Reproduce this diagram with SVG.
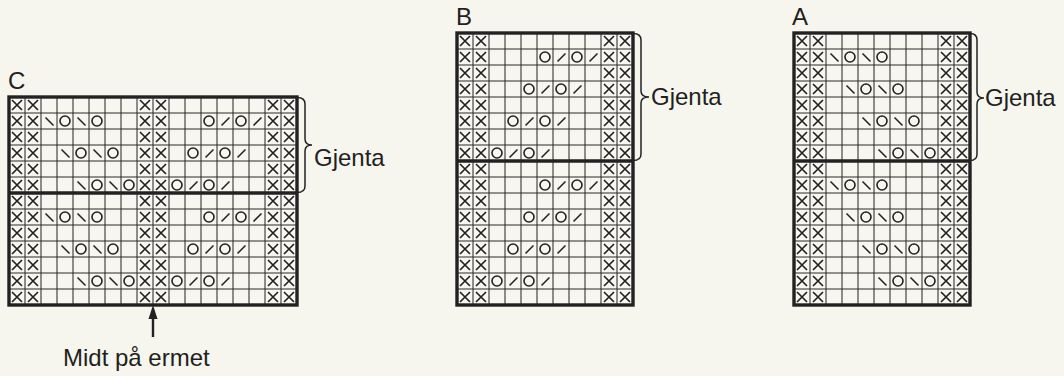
<svg xmlns="http://www.w3.org/2000/svg" xmlns:xlink="http://www.w3.org/1999/xlink" width="1064" height="376" viewBox="0 0 1064 376">
<style>
.bg{fill:#f6f5ee}
.cell{fill:#f7f6f0}
.vg{stroke:#8c8c8c;stroke-width:2;fill:none}
.hg{stroke:#2a2a2a;stroke-width:1.2;fill:none}
.sym{fill:none;stroke:#222;stroke-width:1.6}
.frame{fill:none;stroke:#222;stroke-width:3.4}
.div{stroke:#222;stroke-width:3.4}
.brace{fill:none;stroke:#222;stroke-width:1.5}
.lbl{font-family:"Liberation Sans",Arial,Helvetica,sans-serif;font-size:24px;fill:#231f20}
</style>
<defs>
<pattern id="px" width="16" height="16" patternUnits="userSpaceOnUse"><path d="M3,3L13,13M13,3L3,13" stroke="#222" stroke-width="1.7" fill="none"/></pattern>
<circle id="o" cx="8" cy="8" r="5" class="sym"/>
<path id="bs" d="M4.5,4.5L12.5,12.5" class="sym"/>
<path id="fs" d="M4.5,12.5L12.5,4.5" class="sym"/>
<g id="aR2"><use href="#bs" x="32"/><use href="#o" x="48"/><use href="#bs" x="64"/><use href="#o" x="80"/></g>
<g id="aR4"><use href="#bs" x="48"/><use href="#o" x="64"/><use href="#bs" x="80"/><use href="#o" x="96"/></g>
<g id="aR6"><use href="#bs" x="64"/><use href="#o" x="80"/><use href="#bs" x="96"/><use href="#o" x="112"/></g>
<g id="aR8"><use href="#bs" x="80"/><use href="#o" x="96"/><use href="#bs" x="112"/><use href="#o" x="128"/></g>
<g id="bR2"><use href="#o" x="80"/><use href="#fs" x="96"/><use href="#o" x="112"/><use href="#fs" x="128"/></g>
<g id="bR4"><use href="#o" x="64"/><use href="#fs" x="80"/><use href="#o" x="96"/><use href="#fs" x="112"/></g>
<g id="bR6"><use href="#o" x="48"/><use href="#fs" x="64"/><use href="#o" x="80"/><use href="#fs" x="96"/></g>
<g id="bR8"><use href="#o" x="32"/><use href="#fs" x="48"/><use href="#o" x="64"/><use href="#fs" x="80"/></g>
<path id="vg11" class="vg" d="M16,0V272M32,0V272M48,0V272M64,0V272M80,0V272M96,0V272M112,0V272M128,0V272M144,0V272M160,0V272"/>
<path id="hg17" class="hg" d="M0,16H176M0,32H176M0,48H176M0,64H176M0,80H176M0,96H176M0,112H176M0,144H176M0,160H176M0,176H176M0,192H176M0,208H176M0,224H176M0,240H176M0,256H176"/>
</defs>
<rect class="bg" x="0" y="0" width="1064" height="376"/>

<g id="chart-C" transform="translate(9,97)">
<rect class="cell" x="0" y="0" width="288" height="208"/>
<rect x="0" y="0" width="32" height="208" fill="url(#px)"/>
<rect x="128" y="0" width="32" height="208" fill="url(#px)"/>
<rect x="256" y="0" width="32" height="208" fill="url(#px)"/>
<path class="vg" d="M16,0V208M32,0V208M48,0V208M64,0V208M80,0V208M96,0V208M112,0V208M128,0V208M144,0V208M160,0V208M176,0V208M192,0V208M208,0V208M224,0V208M240,0V208M256,0V208M272,0V208"/>
<path class="hg" d="M0,16H288M0,32H288M0,48H288M0,64H288M0,80H288M0,112H288M0,128H288M0,144H288M0,160H288M0,176H288M0,192H288"/>
<use href="#aR2" y="16"/><use href="#bR2" x="112" y="16"/>
<use href="#aR4" y="48"/><use href="#bR4" x="112" y="48"/>
<use href="#aR6" y="80"/><use href="#bR6" x="112" y="80"/>
<use href="#aR2" y="112"/><use href="#bR2" x="112" y="112"/>
<use href="#aR4" y="144"/><use href="#bR4" x="112" y="144"/>
<use href="#aR6" y="176"/><use href="#bR6" x="112" y="176"/>
<line class="div" x1="0" y1="96" x2="288" y2="96"/>
<rect class="frame" x="0" y="0" width="288" height="208"/>
</g>

<g id="chart-B" transform="translate(457,33)">
<rect class="cell" x="0" y="0" width="176" height="272"/>
<rect x="0" y="0" width="32" height="272" fill="url(#px)"/>
<rect x="144" y="0" width="32" height="272" fill="url(#px)"/>
<use href="#vg11"/><use href="#hg17"/>
<use href="#bR2" y="16"/><use href="#bR4" y="48"/><use href="#bR6" y="80"/><use href="#bR8" y="112"/>
<use href="#bR2" y="144"/><use href="#bR4" y="176"/><use href="#bR6" y="208"/><use href="#bR8" y="240"/>
<line class="div" x1="0" y1="128" x2="176" y2="128"/>
<rect class="frame" x="0" y="0" width="176" height="272"/>
</g>

<g id="chart-A" transform="translate(794,33)">
<rect class="cell" x="0" y="0" width="176" height="272"/>
<rect x="0" y="0" width="32" height="272" fill="url(#px)"/>
<rect x="144" y="0" width="32" height="272" fill="url(#px)"/>
<use href="#vg11"/><use href="#hg17"/>
<use href="#aR2" y="16"/><use href="#aR4" y="48"/><use href="#aR6" y="80"/><use href="#aR8" y="112"/>
<use href="#aR2" y="144"/><use href="#aR4" y="176"/><use href="#aR6" y="208"/><use href="#aR8" y="240"/>
<line class="div" x1="0" y1="128" x2="176" y2="128"/>
<rect class="frame" x="0" y="0" width="176" height="272"/>
</g>

<g id="connectors">
<path class="brace" d="M297,97.5Q305,97.5 305,104V139Q305,145 312,145Q305,145 305,151V186Q305,192.5 297,192.5"/>
<path class="brace" d="M633,33.5Q641,33.5 641,40V91Q641,97 649,97Q641,97 641,103V154Q641,160.5 633,160.5"/>
<path class="brace" d="M970,33.5Q977,33.5 977,40V92Q977,98 984,98Q977,98 977,104V154Q977,160.5 970,160.5"/>
<line x1="153" y1="337" x2="153" y2="316" stroke="#222" stroke-width="2.4"/>
<polygon points="153,305 148.5,319 157.5,319" fill="#222"/>
</g>

<g id="labels">
<text class="lbl" x="8" y="89">C</text>
<text class="lbl" x="456" y="25">B</text>
<text class="lbl" x="792" y="25">A</text>
<text class="lbl" x="314" y="166">Gjenta</text>
<text class="lbl" x="651" y="105">Gjenta</text>
<text class="lbl" x="985" y="106">Gjenta</text>
<text class="lbl" x="63" y="366">Midt på ermet</text>
</g>
</svg>
